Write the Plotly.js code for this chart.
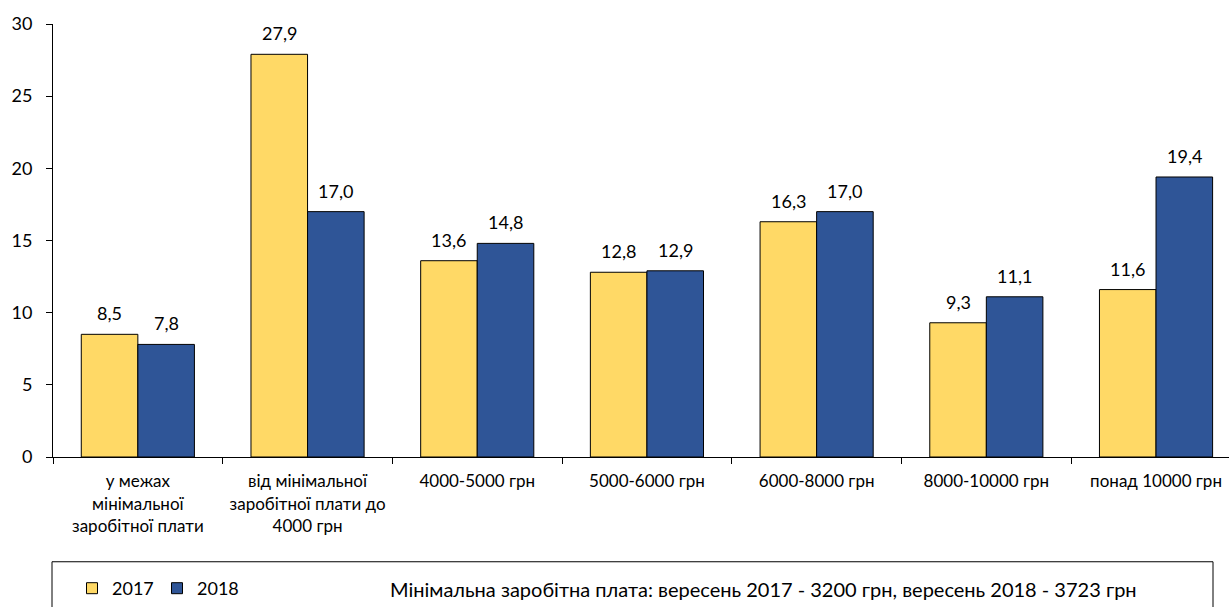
<!DOCTYPE html>
<html>
<head>
<meta charset="utf-8">
<script src="https://cdn.plot.ly/plotly-3.0.1.min.js"></script>
<style>html,body{margin:0;padding:0;background:#fff;}#chart{width:1229px;height:607px;}</style>
</head>
<body>
<div id="chart"></div>
<script>
const categories = [
  "у межах<br>мінімальної<br>заробітної плати",
  "від мінімальної<br>заробітної плати до<br>4000 грн",
  "4000-5000 грн",
  "5000-6000 грн",
  "6000-8000 грн",
  "8000-10000 грн",
  "понад 10000 грн"
];
const values2017 = [8.5, 27.9, 13.6, 12.8, 16.3, 9.3, 11.6];
const values2018 = [7.8, 17.0, 14.8, 12.9, 17.0, 11.1, 19.4];
const seriesNames = ["2017", "2018"];
const noteText = "Мінімальна заробітна плата: вересень 2017 - 3200 грн, вересень 2018 - 3723 грн";

const FONT = "Lato, 'Open Sans', sans-serif";
const colors = ["#FFD966", "#2F5597"];
const BARGAP = 1 / 3;

function barTrace(vals, name, color) {
  return {
    type: "bar", x: categories, y: vals, name: name,
    marker: {color: color, line: {color: "#000", width: 1}},
    showlegend: false, hoverinfo: "skip"
  };
}
function legendTrace(name, color) {
  return {
    type: "scatter", mode: "markers", x: [null], y: [null], name: name,
    marker: {symbol: "square", size: 11, color: color, line: {color: "#000", width: 1}},
    showlegend: true
  };
}

const data = [
  barTrace(values2017, seriesNames[0], colors[0]),
  barTrace(values2018, seriesNames[1], colors[1]),
  legendTrace(seriesNames[0], colors[0]),
  legendTrace(seriesNames[1], colors[1])
];

// value labels placed through the axis scale (bar centre offset in category units)
const half = (1 - BARGAP) / 4;
const valueLabels = [];
[values2017, values2018].forEach((vals, s) => {
  vals.forEach((v, i) => {
    valueLabels.push({
      xref: "x", yref: "y", x: i + (s === 0 ? -half : half), y: v,
      xanchor: "center", yanchor: "bottom", yshift: 8, showarrow: false,
      text: v.toFixed(1).replace(".", ","),
      font: {family: FONT, size: 18, color: "#000"}
    });
  });
});

const H = 434; // plot height px
const W = 1176;
function py(p) { return (458 - p) / H; }
function px(p) { return (p - 53) / W; }

const layout = {
  width: 1229, height: 607,
  margin: {l: 53, r: 0, t: 24, b: 149},
  paper_bgcolor: "#fff", plot_bgcolor: "#fff",
  font: {family: FONT, size: 16, color: "#000"},
  barmode: "group", bargap: BARGAP, bargroupgap: 0,
  xaxis: {
    type: "category", range: [-0.5, 6.43],
    showline: true, linecolor: "#000", linewidth: 1,
    ticks: "outside", ticklen: 6, tickcolor: "#000", tickson: "boundaries",
    ticklabelstandoff: 9,
    tickfont: {family: FONT, size: 17, color: "#000"},
    showgrid: false, zeroline: false, fixedrange: true
  },
  yaxis: {
    range: [0, 30], tickvals: [0, 5, 10, 15, 20, 25, 30],
    showline: true, linecolor: "#000", linewidth: 1,
    ticks: "outside", ticklen: 6, tickcolor: "#000",
    ticklabelstandoff: 10,
    tickfont: {family: FONT, size: 18, color: "#000"},
    showgrid: false, zeroline: false, fixedrange: true
  },
  legend: {
    orientation: "h", x: px(72), y: py(590), xanchor: "left", yanchor: "middle",
    font: {family: FONT, size: 18, color: "#000"},
    bgcolor: "rgba(0,0,0,0)", entrywidth: 40, itemwidth: 30, tracegroupgap: 0
  },
  shapes: [{
    type: "rect", xref: "paper", yref: "paper",
    x0: px(52), x1: px(1213), y0: py(563), y1: py(620),
    line: {color: "#000", width: 1}, fillcolor: "rgba(0,0,0,0)"
  }],
  annotations: valueLabels.concat([{
    xref: "paper", yref: "paper", x: px(388), y: py(590),
    xanchor: "left", yanchor: "middle", showarrow: false,
    text: noteText, font: {family: FONT, size: 20, color: "#000"}
  }])
};

Plotly.newPlot("chart", data, layout, {displayModeBar: false, staticPlot: true});
</script>
</body>
</html>
